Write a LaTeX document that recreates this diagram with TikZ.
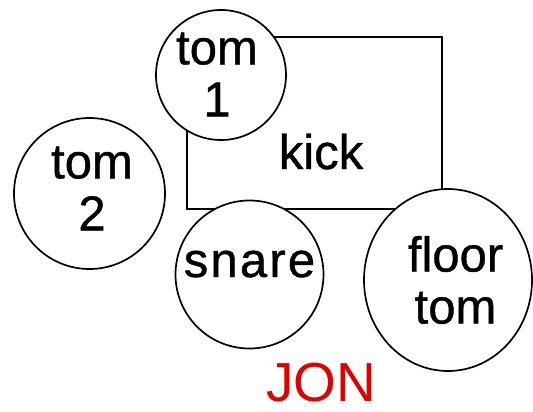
\documentclass[tikz,border=0pt]{standalone}
\usepackage{fontspec}
\setmainfont{Liberation Sans}
\newfontfamily\lblfont[FakeBold=0.8]{Liberation Sans}
\usetikzlibrary{shapes.geometric}
\begin{document}
\begin{tikzpicture}[x=1pt,y=-1pt,
  drum/.style={circle,draw=black,fill=white,line width=1.7pt,inner sep=0pt},
  kickbox/.style={rectangle,draw=black,line width=1.9pt,inner sep=0pt},
  lbl/.style={font=\lblfont\fontsize{49}{52}\selectfont,align=center,inner sep=0pt,text=black}]
\useasboundingbox (0,0) rectangle (533,412);
\fill[white] (0,0) rectangle (533,412);
\node[kickbox,minimum width=255pt,minimum height=172pt] (kick) at (314.5,123) {};
\node[drum,minimum size=130pt] (tom1) at (221,75) {};
\node[drum,minimum size=151pt] (tom2) at (89.5,193.5) {};
\node[drum,minimum size=148pt] (snare) at (249.5,274.5) {};
\node[drum,ellipse,minimum width=168pt,minimum height=182pt] (floor) at (448,280) {};
\node[lbl] (tom1t) at (217,74.5) {tom\\1};
\node[lbl] (tom2t) at (92,188.5) {tom\\2};
\node[lbl,anchor=base] (kickt) at (321,169) {kick};
\node[lbl,anchor=base] (snaret) at (249.5,277) {s\kern2.2pt n\kern2.2pt a\kern2.2pt r\kern2.2pt e};
\node[lbl] (floort) at (455.5,280) {floor\\tom};
\node[font=\fontsize{55}{60}\selectfont,text={rgb,255:red,225;green,0;blue,0},inner sep=0pt] (jon) at (321,383) {JON};
\end{tikzpicture}
\end{document}
